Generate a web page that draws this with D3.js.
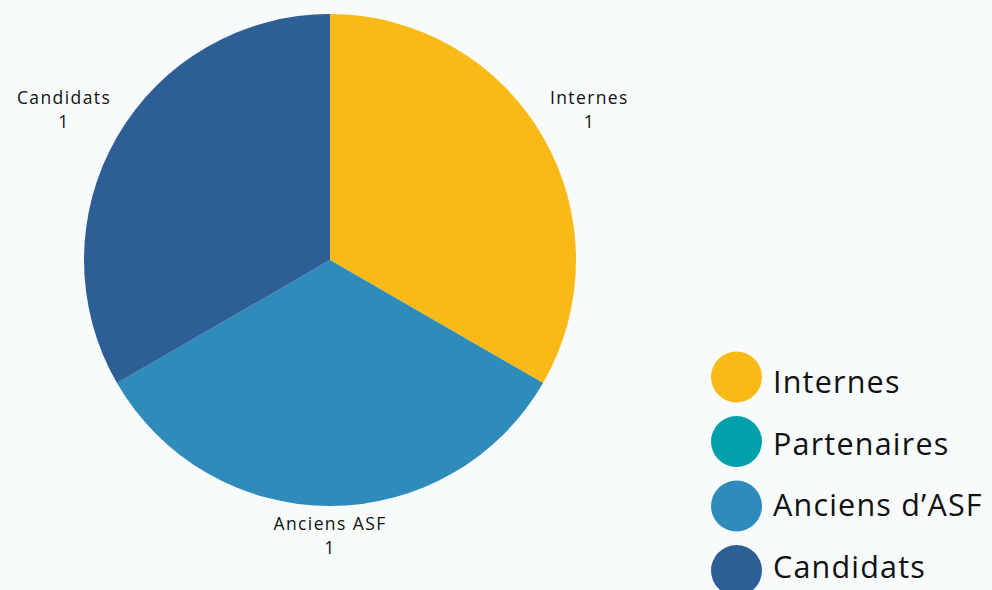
<!DOCTYPE html>
<html>
<head>
<meta charset="utf-8">
<script src="https://cdn.jsdelivr.net/npm/d3@7"></script>
<style>
  body { margin: 0; background: #f8fbfc; }
  svg { display: block; font-family: "Open Sans", sans-serif; }
</style>
</head>
<body>
<svg id="chart" width="992" height="590"></svg>
<script>
const categories = ['Internes', 'Partenaires', 'Anciens d\u2019ASF', 'Candidats'];
const sliceLabels = ['Internes', 'Partenaires', 'Anciens ASF', 'Candidats'];
const values = [1, 0, 1, 1];
const colors = ['#f9b916', '#00a0aa', '#2e8bba', '#2e5e96'];

const svg = d3.select('#chart');
const cx = 330, cy = 260, radius = 246;

const data = categories.map((c, i) => ({ name: c, label: sliceLabels[i], value: values[i], color: colors[i] }));

const pie = d3.pie().sort(null).value(d => d.value);
const arc = d3.arc().innerRadius(0).outerRadius(radius);
const arcs = pie(data);

const g = svg.append('g').attr('transform', `translate(${cx},${cy})`);

g.selectAll('path')
    .data(arcs.filter(d => d.data.value > 0))
    .enter().append('path')
    .attr('d', arc)
    .attr('fill', d => d.data.color);

// labels outside the slices
const labelRx = 260, labelRy = 284;
arcs.filter(d => d.data.value > 0).forEach(d => {
    const a = (d.startAngle + d.endAngle) / 2;
    const dx = Math.sin(a), dy = -Math.cos(a);
    const t = g.append('text')
        .attr('text-anchor', 'middle')
        .attr('font-size', 17.5)
        .attr('letter-spacing', 1.4)
        .attr('fill', '#111');
    t.append('tspan').attr('x', 0).attr('dy', 0).text(d.data.label);
    t.append('tspan').attr('x', 0).attr('dy', 24).text(d.data.value);
    const w = t.node().getBBox().width;
    const bx = labelRx * dx + dx * w / 2;
    const by = labelRy * dy - 8;
    t.attr('transform', `translate(${bx},${by - 6})`);
});

// legend: dots and texts sit on slightly different pitches
const legend = svg.append('g');
const item = legend.selectAll('g')
    .data(data)
    .enter().append('g');

item.append('circle')
    .attr('cx', 736.5)
    .attr('cy', (d, i) => 377 + i * 64.5)
    .attr('r', 25.5)
    .attr('fill', d => d.color);

item.append('text')
    .attr('x', 773)
    .attr('y', (d, i) => 393 + i * 61.7)
    .attr('font-size', 30.5)
    .attr('letter-spacing', 1.2)
    .attr('fill', '#111')
    .text(d => d.name);
</script>
</body>
</html>
